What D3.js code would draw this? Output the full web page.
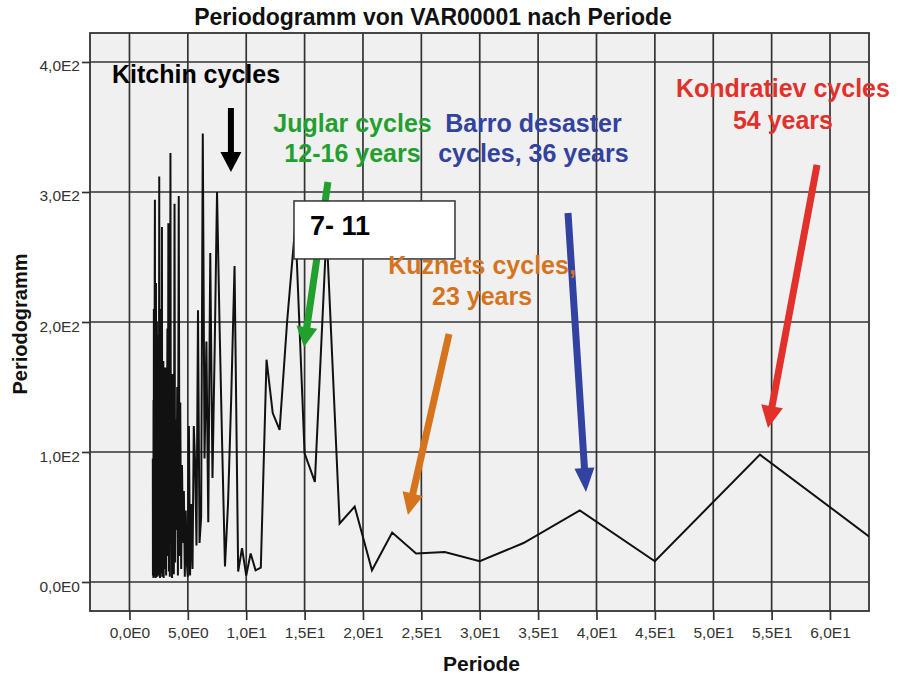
<!DOCTYPE html>
<html><head><meta charset="utf-8">
<script src="https://cdn.jsdelivr.net/npm/d3@7"></script>
<style>
body{margin:0;background:#fff;}
svg{display:block;font-family:"Liberation Sans",Arial,sans-serif;}
</style>
</head><body>
<svg id="chart" width="899" height="680"></svg>
<script>
// ---- data ----
const periods = [
  2.00,2.01,2.03,2.05,2.06,2.08,2.09,2.11,2.13,2.14,
  2.16,2.18,2.20,2.21,2.23,2.25,2.27,2.29,2.31,2.33,
  2.35,2.37,2.39,2.41,2.43,2.45,2.48,2.50,2.52,2.55,
  2.57,2.60,2.62,2.65,2.67,2.70,2.73,2.76,2.78,2.81,
  2.84,2.87,2.90,2.93,2.97,3.00,3.03,3.07,3.10,3.14,
  3.18,3.21,3.25,3.29,3.33,3.38,3.42,3.46,3.51,3.55,
  3.60,3.65,3.70,3.75,3.80,3.86,3.91,3.97,4.03,4.09,
  4.15,4.22,4.29,4.35,4.43,4.50,4.58,4.66,4.74,4.82,
  4.91,5.00,5.09,5.19,5.29,5.40,5.51,5.63,5.74,5.87,
  6.00,6.14,6.28,6.43,6.59,6.75,6.92,7.11,7.30,7.50,
  7.71,7.94,8.18,8.44,8.71,9.00,9.31,9.64,10.00,10.38,
  10.80,11.25,11.74,12.27,12.86,13.50,14.21,15.00,15.88,16.88,
  18.00,19.29,20.77,22.50,24.55,27.00,30.00,33.75,38.57,45.00,
  54.00,67.50
];
const periodogram = [
  95,5,60,3,140,10,210,4,120,30,
  225,294,8,180,50,3,230,15,150,6,
  200,70,4,160,25,190,5,135,40,312,
  12,175,3,110,60,210,7,150,273,4,
  120,35,170,3,95,140,10,165,45,5,
  130,60,195,20,276,8,150,4,330,30,
  110,3,160,55,6,291,15,125,40,150,
  5,297,20,138,10,90,30,70,4,55,
  15,4,120,5,60,10,120,90,28,209,
  30,50,345,95,185,46,253,80,180,300,
  200,105,12,60,140,243,8,26,5,22,
  9,11,171,130,117,200,275,99,77,270,
  45,58,9,38,22,23,16,30,55,16,
  98,7
];
const xTickValues = [0,5,10,15,20,25,30,35,40,45,50,55,60];
const xTickLabels = ["0,0E0","5,0E0","1,0E1","1,5E1","2,0E1","2,5E1","3,0E1","3,5E1","4,0E1","4,5E1","5,0E1","5,5E1","6,0E1"];
const yTickValues = [0,100,200,300,400];
const yTickLabels = ["0,0E0","1,0E2","2,0E2","3,0E2","4,0E2"];
const chartTitle = "Periodogramm von VAR00001 nach Periode";
const xTitle = "Periode";
const yTitle = "Periodogramm";
const boxLabel = "7- 11";

// annotation texts (positions in data units)
const noteTexts = [
  {lines:["Kitchin cycles"], color:"#000000", anchor:"start", x:-1.5, ys:[383.8]},
  {lines:["Juglar cycles","12-16 years"], color:"#22a02e", anchor:"middle", x:19.1, ys:[346.5,323.1]},
  {lines:["Barro desaster","cycles, 36 years"], color:"#3242a0", anchor:"middle", x:34.6, ys:[346.5,323.1]},
  {lines:["Kuznets cycles,","23 years"], color:"#d5741c", anchor:"middle", x:30.2, ys:[237.3,213.1]},
  {lines:["Kondratiev cycles","54 years"], color:"#e2302a", anchor:"middle", x:55.97, ys:[372.7,348.8]}
];
// arrows: from (x1,y1) to tip (x2,y2), data units
const noteArrows = [
  {color:"#000000", x1:8.69, y1:364.6, x2:8.69, y2:315.4, w:6, L:20, H:21, under:false},
  {color:"#22a02e", x1:17.0, y1:307.7, x2:14.95, y2:180.8, w:7, L:20, H:21, under:true},
  {color:"#3242a0", x1:37.56, y1:283.8, x2:39.1, y2:69.2, w:7, L:24, H:20, under:false},
  {color:"#d5741c", x1:27.37, y1:190.8, x2:23.85, y2:51.5, w:7, L:22, H:21, under:false},
  {color:"#e2302a", x1:58.89, y1:320.8, x2:54.69, y2:118.5, w:7, L:22, H:22, under:false}
];
const box = {x0:14.09, x1:27.88, y0:293.1, y1:248.5, tx:15.46, ty:266.9};

// ---- chart ----
const svg = d3.select("#chart");
const pLeft = 90, pRight = 869, pTop = 33, pBottom = 611;
const x = d3.scaleLinear().domain([-3.38, 63.34]).range([pLeft, pRight]);
const y = d3.scaleLinear().domain([-22.3, 422.3]).range([pBottom, pTop]);

svg.append("rect").attr("x",pLeft).attr("y",pTop).attr("width",pRight-pLeft).attr("height",pBottom-pTop)
  .attr("fill","#f0f0f0");

svg.append("defs").append("clipPath").attr("id","clip").append("rect")
  .attr("x",pLeft).attr("y",pTop).attr("width",pRight-pLeft).attr("height",pBottom-pTop);

const grid = svg.append("g").attr("stroke","#333").attr("stroke-width",1.7);
grid.selectAll("line.v").data(xTickValues).join("line").attr("class","v")
  .attr("x1",d=>x(d)).attr("x2",d=>x(d)).attr("y1",pTop).attr("y2",pBottom);
grid.selectAll("line.h").data(yTickValues).join("line").attr("class","h")
  .attr("y1",d=>y(d)).attr("y2",d=>y(d)).attr("x1",pLeft).attr("x2",pRight);

// axes
const xAxis = svg.append("g").attr("transform",`translate(0,${pBottom})`)
  .call(d3.axisBottom(x).tickValues(xTickValues).tickFormat((d,i)=>xTickLabels[i]).tickSizeInner(9).tickSizeOuter(0).tickPadding(0));
xAxis.select(".domain").remove();
xAxis.selectAll(".tick line").attr("stroke","#333").attr("stroke-width",1.7);
xAxis.selectAll(".tick text").attr("y",26.5).attr("dy",0).attr("fill","#333")
  .style("font-size","15.5px").style("font-family","'Liberation Sans',Arial,sans-serif");

const yAxis = svg.append("g").attr("transform",`translate(${pLeft},0)`)
  .call(d3.axisLeft(y).tickValues(yTickValues).tickFormat((d,i)=>yTickLabels[i]).tickSizeInner(8).tickSizeOuter(0).tickPadding(0));
yAxis.select(".domain").remove();
yAxis.selectAll(".tick line").attr("stroke","#333").attr("stroke-width",1.7);
yAxis.selectAll(".tick text").attr("x",-10).attr("dy",0).attr("y",9).attr("fill","#333")
  .style("font-size","15.5px").style("font-family","'Liberation Sans',Arial,sans-serif");

// frame
svg.append("rect").attr("x",pLeft).attr("y",pTop).attr("width",pRight-pLeft).attr("height",pBottom-pTop)
  .attr("fill","none").attr("stroke","#333").attr("stroke-width",1.8);

// data line
const pts = periods.map((p,i)=>[p, periodogram[i]]);
svg.append("path").datum(pts).attr("clip-path","url(#clip)")
  .attr("fill","none").attr("stroke","#111").attr("stroke-width",2).attr("stroke-linejoin","miter")
  .attr("d", d3.line().x(d=>x(d[0])).y(d=>y(d[1])));

// arrows helper
function drawArrow(a){
  const sx=x(a.x1), sy=y(a.y1), tx=x(a.x2), ty=y(a.y2);
  const dx=tx-sx, dy=ty-sy, len=Math.hypot(dx,dy);
  const ux=dx/len, uy=dy/len, nx=-uy, ny=ux;
  const bx=tx-ux*a.L, by=ty-uy*a.L;
  const hw=a.w/2, hh=a.H/2;
  const poly=[[sx+nx*hw,sy+ny*hw],[bx+nx*hw,by+ny*hw],[bx+nx*hh,by+ny*hh],[tx,ty],
              [bx-nx*hh,by-ny*hh],[bx-nx*hw,by-ny*hw],[sx-nx*hw,sy-ny*hw]];
  svg.append("polygon").attr("points",poly.map(p=>p.join(",")).join(" ")).attr("fill",a.color);
}
noteArrows.filter(a=>a.under).forEach(drawArrow);

// box
svg.append("rect").attr("x",x(box.x0)).attr("y",y(box.y0))
  .attr("width",x(box.x1)-x(box.x0)).attr("height",y(box.y1)-y(box.y0))
  .attr("fill","#ffffff").attr("stroke","#333").attr("stroke-width",1.5);
svg.append("text").attr("x",x(box.tx)).attr("y",y(box.ty)).text(boxLabel)
  .attr("font-size","27px").attr("font-weight","bold").attr("fill","#000");

noteArrows.filter(a=>!a.under).forEach(drawArrow);

noteTexts.forEach(n=>{
  n.lines.forEach((t,i)=>{
    svg.append("text").attr("x",x(n.x)).attr("y",y(n.ys[i])).attr("text-anchor",n.anchor)
      .attr("font-size","25px").attr("font-weight","bold").attr("fill",n.color).text(t);
  });
});

// titles
svg.append("text").attr("x",433).attr("y",25).attr("text-anchor","middle")
  .attr("font-size","23px").attr("font-weight","bold").attr("fill","#111").text(chartTitle);
svg.append("text").attr("x",(pLeft+pRight)/2+2).attr("y",671).attr("text-anchor","middle")
  .attr("font-size","21px").attr("font-weight","bold").attr("fill","#111").text(xTitle);
svg.append("text").attr("transform","translate(27,324) rotate(-90)").attr("text-anchor","middle")
  .attr("font-size","20px").attr("font-weight","bold").attr("fill","#111").text(yTitle);
</script>
</body></html>
